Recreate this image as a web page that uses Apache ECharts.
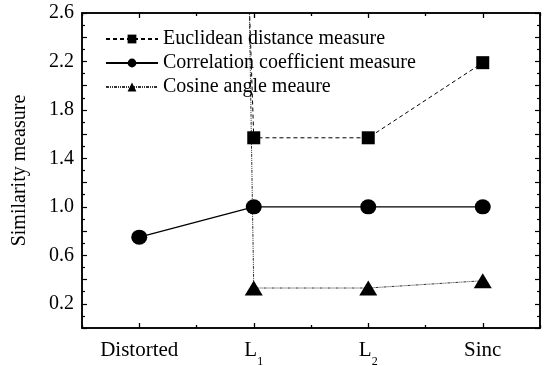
<!DOCTYPE html>
<html lang="en" style="height: 100%">
<head>
  <meta charset="utf-8">
  <title>similarity</title>
</head>
<body style="height: 100%; margin: 0; background: #fff">
  <div id="container" style="width: 551px;height: 366px"></div>
  <script type="text/javascript" src="https://cdn.jsdelivr.net/npm/echarts@6/dist/echarts.min.js"></script>
  <script type="text/javascript">
    const categories = ['Distorted', 'L{s|1}', 'L{s|2}', 'Sinc'];
    const euclidean = [30, 1.57, 1.57, 2.19];
    const correlation = [0.75, 1.0, 1.0, 1.0];
    const cosine = [60, 0.33, 0.33, 0.39];

    var dom = document.getElementById('container');
    var myChart = echarts.init(dom, null, { renderer: 'canvas' });
    const font = 'Liberation Serif';
    const black = { color: '#000', width: 1.5 };

    // x axis with ticks at the categories (major) or between them (minor)
    const catAxis = function (grid, major, labels, inside) {
      return {
        type: 'category',
        gridIndex: grid,
        position: 'bottom',
        data: categories,
        axisLine: { show: major, onZero: false, lineStyle: black },
        axisTick: { show: true, inside: inside, alignWithLabel: major, length: major ? 5 : 3, lineStyle: { color: '#000', width: 1.3 } },
        axisLabel: {
          show: labels,
          color: '#000',
          fontFamily: font,
          fontSize: 21,
          margin: 12,
          rich: { s: { fontFamily: font, fontSize: 12, verticalAlign: 'bottom', padding: [0, 0, -7, 0] } }
        },
        splitLine: { show: false }
      };
    };
    const valAxis = function (grid, labels, inside) {
      return {
        type: 'value',
        gridIndex: grid,
        position: 'left',
        min: 0,
        max: 2.6,
        interval: 0.2,
        name: labels ? 'Similarity measure' : '',
        nameLocation: 'middle',
        nameGap: 52,
        nameTextStyle: { color: '#000', fontFamily: font, fontSize: 20 },
        axisLine: { show: true, onZero: false, lineStyle: black },
        axisTick: { show: true, inside: inside, length: 5, lineStyle: { color: '#000', width: 1.2 } },
        minorTick: { show: true, splitNumber: 2, length: 3, lineStyle: { color: '#000', width: 1.2 } },
        axisLabel: {
          show: labels,
          color: '#000',
          fontFamily: font,
          fontSize: 20,
          margin: 8,
          formatter: function (v) {
            const k = Math.round(v * 10);
            return k % 4 === 2 ? v.toFixed(1) : '';
          }
        },
        splitLine: { show: false }
      };
    };
    const hidden = function (grid) {
      return { type: 'value', gridIndex: grid, min: 0, max: 1, show: false };
    };

    const option = {
      animation: false,
      grid: [
        // main plot
        { left: 82, right: 11, top: 13, bottom: 38, containLabel: false, outerBoundsMode: 'none',
          show: true, borderColor: '#000', borderWidth: 1.5, backgroundColor: 'transparent' },
        // thin strip along the top edge: its bottom axis gives the top ticks
        { left: 82, right: 11, top: 12, height: 1, containLabel: false, outerBoundsMode: 'none' },
        // thin strip along the right edge: its left axis gives the right ticks
        { left: 540, width: 1, top: 13, bottom: 38, containLabel: false, outerBoundsMode: 'none' }
      ],
      legend: {
        orient: 'vertical',
        left: 100,
        top: 24,
        itemWidth: 52,
        itemHeight: 11,
        itemGap: 4,
        textStyle: { color: '#000', fontFamily: font, fontSize: 20 },
        data: ['Euclidean distance measure', 'Correlation coefficient measure', 'Cosine angle meaure']
      },
      xAxis: [
        catAxis(0, true, true, true),
        catAxis(0, false, false, true),
        catAxis(1, true, false, false),
        catAxis(1, false, false, false),
        hidden(2)
      ],
      yAxis: [
        valAxis(0, true, true),
        hidden(1),
        valAxis(2, false, false)
      ],
      series: [
        {
          name: 'Euclidean distance measure',
          type: 'line',
          data: euclidean,
          symbol: 'rect',
          symbolSize: 13,
          itemStyle: { color: '#000' },
          lineStyle: { color: '#000', width: 1, type: [4, 3] }
        },
        {
          name: 'Correlation coefficient measure',
          type: 'line',
          data: correlation,
          symbol: 'circle',
          symbolSize: [16, 15],
          itemStyle: { color: '#000' },
          lineStyle: { color: '#000', width: 1.2, type: 'solid' }
        },
        {
          name: 'Cosine angle meaure',
          type: 'line',
          data: cosine,
          symbol: 'triangle',
          symbolSize: [18, 15],
          itemStyle: { color: '#000' },
          lineStyle: { color: '#333', width: 1, type: [3, 1, 1, 1, 1, 1] }
        }
      ]
    };
    myChart.setOption(option);
    window.addEventListener('resize', myChart.resize);
  </script>
</body>
</html>
